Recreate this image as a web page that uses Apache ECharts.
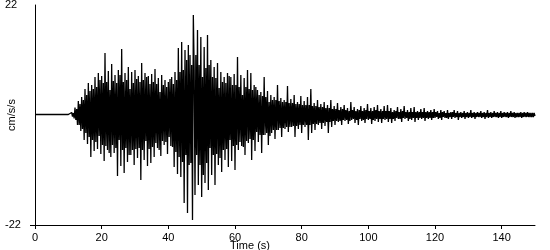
<!DOCTYPE html>
<html>
<head>
<meta charset="utf-8">
<script src="https://cdn.jsdelivr.net/npm/echarts@6/dist/echarts.min.js"></script>
<style>html,body{margin:0;padding:0;background:#fff;}#chart{width:550px;height:250px;}</style>
</head>
<body>
<div id="chart"></div>
<script>
// Pre-event trace: t = 0 .. 10.5 s, one value every 0.5 s (cm/s/s)
const preStart = 0, preStep = 0.5;
const preEvent = [0.1,-0.1,0.1,-0.1,0.1,-0.1,0.1,-0.1,0.1,-0.1,0.1,-0.1,0.1,-0.1,0.1,-0.1,0.1,-0.1,0.1,-0.1,0.1,-0.1];

// Strong motion: t = 11 .. 89.75 s, one value every 0.25 s (one row per second)
const strongStart = 11, strongStep = 0.25;
const strongMotion = [
  0.5,-0.3,0.4,-0.7,
  1.5,-1.0,1.2,-2.0,
  2.8,-2.0,2.2,-3.2,
  3.6,-2.8,3.0,-5.0,
  5.2,-3.6,4.0,-5.8,
  6.4,-4.4,4.8,-8.4,
  6.0,-5.0,5.2,-7.2,
  7.6,-5.4,5.6,-6.8,
  8.4,-4.2,7.0,-7.8,
  7.8,-6.0,6.4,-9.2,
  12.4,-6.2,6.6,-7.0,
  8.8,-7.6,5.0,-8.4,
  10.2,-6.0,6.8,-7.6,
  8.0,-6.6,6.4,-12.2,
  9.0,-5.0,8.0,-10.2,
  13.2,-7.0,6.6,-11.6,
  8.4,-6.6,7.0,-9.4,
  9.6,-8.0,5.2,-8.0,
  8.6,-7.0,6.4,-10.0,
  9.0,-6.8,7.2,-8.6,
  7.8,-6.6,6.6,-13.0,
  10.4,-7.0,7.0,-9.0,
  8.4,-5.2,7.6,-10.2,
  7.8,-6.8,6.2,-9.6,
  8.2,-6.4,6.6,-8.4,
  9.2,-5.6,6.2,-6.6,
  7.4,-7.0,4.6,-8.2,
  8.0,-5.2,6.0,-6.0,
  7.0,-5.4,5.6,-7.8,
  6.6,-4.4,7.2,-6.2,
  7.6,-6.4,6.2,-10.4,
  8.6,-7.4,7.0,-11.8,
  13.4,-8.4,8.6,-12.4,
  14.6,-9.4,9.0,-17.6,
  13.0,-8.0,11.0,-19.6,
  14.0,-10.0,12.0,-9.6,
  10.0,-21.0,20.0,9.0,
  -16.0,12.0,-8.0,17.0,
  -14.0,10.0,-10.0,15.6,
  -16.4,7.6,-12.0,13.6,
  -13.6,9.4,-9.6,16.0,
  -15.0,10.0,-6.6,11.0,
  -12.0,7.6,-8.0,9.6,
  -14.0,7.4,-7.8,10.4,
  -10.0,5.4,-8.6,8.6,
  -11.4,6.6,-7.0,7.6,
  -9.0,6.4,-6.8,8.4,
  -10.4,7.8,-5.0,7.6,
  -9.2,6.0,-6.2,8.2,
  -11.0,6.0,-6.0,11.6,
  -7.0,5.6,-5.4,8.0,
  -6.2,4.0,-6.4,7.4,
  -8.0,5.6,-5.2,9.0,
  -5.6,5.2,-4.8,8.4,
  -9.0,5.0,-5.0,6.0,
  -7.2,5.6,-3.4,5.0,
  -5.4,4.0,-4.0,4.6,
  -7.6,3.8,-4.0,7.6,
  -4.0,3.6,-3.6,4.8,
  -6.0,2.6,-4.2,4.0,
  -3.6,3.0,-3.0,3.6,
  -4.8,3.0,-3.0,6.0,
  -3.0,2.8,-2.6,3.4,
  -4.4,2.6,-2.6,3.0,
  -2.8,2.6,-2.4,5.8,
  -3.4,2.4,-2.4,3.2,
  -2.4,2.4,-2.2,4.0,
  -4.4,2.2,-2.2,2.6,
  -2.8,2.2,-2.0,3.8,
  -3.6,2.0,-2.0,2.8,
  -2.4,2.0,-2.0,3.6,
  -5.0,2.0,-2.0,5.2,
  -3.6,1.8,-1.8,2.4,
  -3.0,1.8,-1.8,3.0,
  -2.0,1.6,-1.6,2.2,
  -2.8,1.6,-1.6,2.6,
  -2.2,1.4,-1.4,2.0,
  -3.6,1.4,-1.4,3.0,
  -2.4,1.2,-1.2,1.8
];

// Coda: t = 90 .. 149.75 s, one value every 0.25 s (one row per second), then end at 150 s
const codaStart = 90, codaStep = 0.25;
const coda = [
  -2.0,1.2,-1.2,2.4,
  -1.4,1.0,-1.2,1.6,
  -2.0,1.2,-1.0,2.0,
  -1.2,1.0,-1.0,1.4,
  -1.8,0.8,-1.2,2.6,
  -1.0,1.0,-0.8,1.6,
  -1.6,0.8,-1.0,1.2,
  -2.0,1.0,-0.8,1.8,
  -1.2,0.8,-1.0,1.4,
  -1.6,1.0,-0.8,2.2,
  -1.0,0.8,-0.8,1.4,
  -1.8,0.8,-1.0,1.6,
  -1.2,1.0,-0.8,2.0,
  -1.4,0.8,-0.8,1.2,
  -1.6,0.8,-0.8,1.8,
  -1.0,0.8,-0.8,2.0,
  -1.4,0.8,-0.8,1.4,
  -1.6,0.6,-0.8,1.0,
  -1.2,0.8,-0.6,1.6,
  -0.8,0.6,-0.8,1.2,
  -1.4,0.8,-0.6,1.8,
  -0.8,0.6,-0.6,1.0,
  -1.2,0.6,-0.8,1.4,
  -1.0,0.6,-0.6,1.6,
  -1.4,0.6,-0.6,0.8,
  -1.0,0.6,-0.6,1.2,
  -0.8,0.6,-0.6,1.4,
  -1.2,0.6,-0.6,0.8,
  -0.8,0.6,-0.6,1.0,
  -1.0,0.6,-0.6,1.2,
  -0.6,0.6,-0.4,0.8,
  -0.8,0.4,-0.6,1.0,
  -1.0,0.6,-0.4,0.8,
  -0.6,0.4,-0.6,1.0,
  -0.8,0.4,-0.4,0.6,
  -0.8,0.6,-0.4,1.0,
  -0.6,0.4,-0.4,0.8,
  -1.0,0.4,-0.4,0.6,
  -0.6,0.4,-0.4,0.8,
  -0.8,0.4,-0.4,0.6,
  -0.6,0.4,-0.4,1.0,
  -0.6,0.4,-0.4,0.6,
  -0.8,0.4,-0.4,0.6,
  -0.4,0.4,-0.4,0.8,
  -0.6,0.4,-0.4,0.6,
  -0.8,0.4,-0.4,1.0,
  -0.6,0.4,-0.4,0.6,
  -0.6,0.4,-0.4,0.8,
  -0.4,0.4,-0.4,0.6,
  -0.6,0.4,-0.4,0.8,
  -0.6,0.4,-0.4,0.6,
  -0.4,0.4,-0.4,0.6,
  -0.6,0.4,-0.4,0.8,
  -0.4,0.4,-0.4,0.6,
  -0.6,0.4,-0.4,0.4,
  -0.4,0.4,-0.4,0.6,
  -0.6,0.4,-0.4,0.6,
  -0.4,0.4,-0.4,0.6,
  -0.4,0.4,-0.4,0.4,
  -0.4,0.4,-0.4,0.4,
  -0.2
];

// Axis ticks and labels
const xTicks = [0, 20, 40, 60, 80, 100, 120, 140];
const yLabels = [-22, 22];
const yTicks = [-22];

const toPairs = (arr, start, step) => arr.map((v, i) => [start + i * step, v]);
const data = [].concat(
  toPairs(preEvent, preStart, preStep),
  toPairs(strongMotion, strongStart, strongStep),
  toPairs(coda, codaStart, codaStep)
);
const font = 'Liberation Sans, Arial, sans-serif';

const chart = echarts.init(document.getElementById('chart'), null, {renderer: 'canvas'});
chart.setOption({
  animation: false,
  backgroundColor: '#fff',
  grid: {left: 35, right: 15, top: 5, bottom: 25, containLabel: false, outerBoundsMode: 'none'},
  xAxis: {
    type: 'value', min: 0, max: 150, interval: 20,
    name: 'Time (s)', nameLocation: 'middle', nameGap: 15, nameMoveOverlap: false,
    nameTextStyle: {color: '#000', fontSize: 11, fontFamily: font, padding: [0, 70, 0, 0]},
    axisLine: {show: true, onZero: false, lineStyle: {color: '#000', width: 1}},
    axisTick: {show: true, length: 4, customValues: xTicks, lineStyle: {color: '#000'}},
    axisLabel: {color: '#000', fontSize: 11, fontFamily: font, margin: 7, customValues: xTicks},
    splitLine: {show: false}
  },
  yAxis: {
    type: 'value', min: -22, max: 22, interval: 22,
    name: 'cm/s/s', nameLocation: 'middle', nameGap: 18, nameRotate: 90, nameMoveOverlap: false,
    nameTextStyle: {color: '#000', fontSize: 11, fontFamily: font},
    axisLine: {show: true, lineStyle: {color: '#000', width: 1}},
    axisTick: {show: true, length: 5, customValues: yTicks, lineStyle: {color: '#000'}},
    axisLabel: {color: '#000', fontSize: 11, fontFamily: font, align: 'left', margin: 30, customValues: yLabels},
    splitLine: {show: false}
  },
  series: [{
    type: 'line', data: data, showSymbol: false, symbol: 'none', sampling: null,
    lineStyle: {color: '#000', width: 1.3}, silent: true
  }]
});
</script>
</body>
</html>
